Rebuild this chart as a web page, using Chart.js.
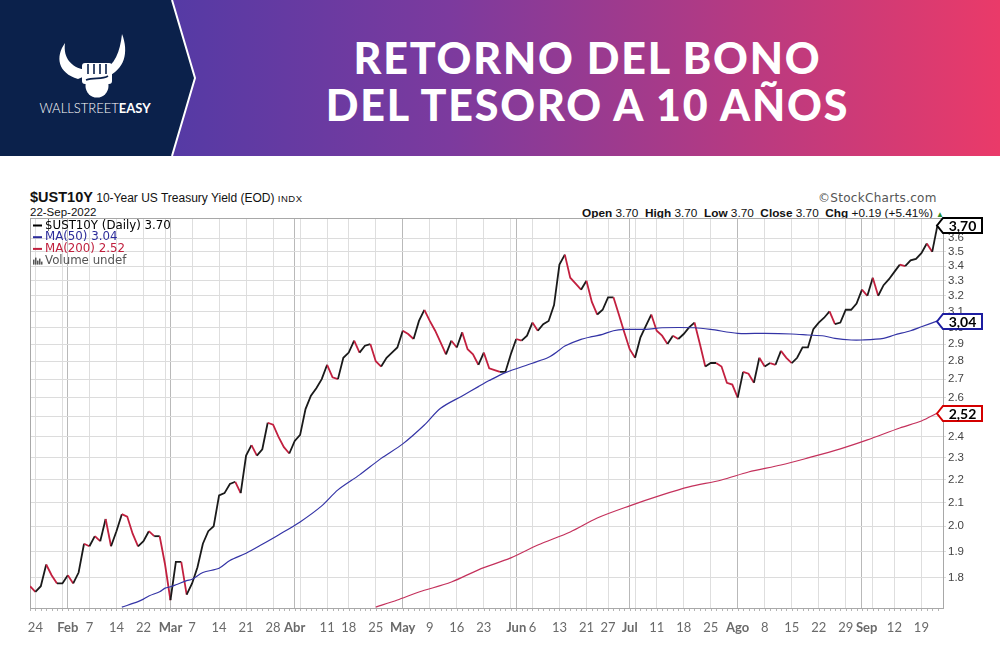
<!DOCTYPE html>
<html>
<head>
<meta charset="utf-8">
<script src="https://cdn.jsdelivr.net/npm/chart.js@4.4.1/dist/chart.umd.min.js"></script>
<style>
  body { margin: 0; width: 1000px; height: 672px; position: relative; background: #fff; overflow: hidden;
         font-family: "Liberation Sans", Arial, sans-serif; }
  #hdr { position: absolute; left: 0; top: 0; }
  .title { position: absolute; left: 175px; width: 825px; text-align: center; color: #fff;
           font-family: Lato, sans-serif; font-weight: 900; font-size: 43px; letter-spacing: 1.8px; line-height: 46px; }
  .txt { position: absolute; white-space: nowrap; color: #111; }
  #chartBox { position: absolute; left: 0; top: 160px; width: 1000px; height: 512px; }
</style>
</head>
<body>

<!-- cabecera -->
<svg id="hdr" width="1000" height="156" viewBox="0 0 1000 156">
  <defs>
    <linearGradient id="band" x1="0" x2="1" y1="0" y2="0">
      <stop offset="0" stop-color="#3d3aa9"/>
      <stop offset="0.45" stop-color="#7c3a9e"/>
      <stop offset="1" stop-color="#ea3a69"/>
    </linearGradient>
  </defs>
  <rect x="0" y="0" width="1000" height="156" fill="url(#band)"/>
  <polygon points="0,0 172,0 195,78 172,156 0,156" fill="#0b214b"/>
  <polyline points="172,0 195,78 172,156" fill="none" stroke="#fff" stroke-width="2"/>
  <!-- logo -->
  <path d="M65,43 C55,57 58,73 78,79 L85,76 L85,70 C71,67 63,58 65,43 Z" fill="#fff"/>
  <path d="M122,34 C129,52 125,70 106,77 L102,71 C115,65 120,52 122,34 Z" fill="#fff"/>
  <rect x="82" y="63" width="30" height="21" rx="3" fill="#fff"/>
  <circle cx="97" cy="86" r="11.5" fill="#fff"/>
  <path d="M88,64 L88,74 M94,64 L94,74 M100,64 L100,74 M106,64 L106,74 M86,80 C94,77 102,80 108,76" stroke="#0b214b" stroke-width="1.6" fill="none"/>
  <text x="95" y="113" text-anchor="middle" font-family="Lato" font-size="13" fill="#fff"><tspan font-weight="300">WALLSTREET</tspan><tspan font-weight="bold">EASY</tspan></text>
</svg>
<div class="title" style="top:35px">RETORNO DEL BONO</div>
<div class="title" style="top:82px">DEL TESORO A 10 AÑOS</div>

<!-- rótulos del gráfico -->
<div class="txt" style="left:30px;top:189px;font-size:12px"><b style="font-size:14.5px">$UST10Y</b> 10-Year US Treasury Yield (EOD) <span style="font-size:9.5px;letter-spacing:0.5px">INDX</span></div>
<div class="txt" style="left:30px;top:206px;font-size:11.5px">22-Sep-2022</div>
<div class="txt" style="left:818px;top:191px;font-size:12px;color:#555;font-family:'DejaVu Sans',sans-serif;letter-spacing:0.3px">©StockCharts.com</div>
<div class="txt" style="left:582px;top:206px;font-size:11.8px"><b>Open</b> 3.70&nbsp; <b>High</b> 3.70&nbsp; <b>Low</b> 3.70&nbsp; <b>Close</b> 3.70&nbsp; <b>Chg</b> +0.19 (+5.41%) <span style="color:#2a8a2a;font-size:8px">▲</span></div>

<div id="chartBox"><canvas id="c" width="1000" height="512"></canvas></div>

<script>
// ── datos ──────────────────────────────────────────────
// cierre diario del $UST10Y, 21-ene-2022 … 22-sep-2022 (índice = sesión)
const yieldClose = [
  1.77, 1.75, 1.77, 1.85, 1.81, 1.78, 1.78, 1.81, 1.78, 1.82,
  1.93, 1.92, 1.96, 1.94, 2.03, 1.92, 1.98, 2.05, 2.04, 1.97,
  1.92, 1.94, 1.98, 1.96, 1.96, 1.85, 1.72, 1.86, 1.86, 1.74,
  1.78, 1.84, 1.93, 1.98, 2.00, 2.13, 2.14, 2.18, 2.19, 2.14,
  2.31, 2.36, 2.31, 2.34, 2.47, 2.46, 2.40, 2.35, 2.32, 2.38,
  2.41, 2.54, 2.61, 2.65, 2.70, 2.78, 2.71, 2.70, 2.82, 2.85,
  2.92, 2.85, 2.89, 2.90, 2.80, 2.77, 2.82, 2.85, 2.88, 2.98,
  2.96, 2.93, 3.04, 3.11, 3.04, 2.98, 2.91, 2.84, 2.92, 2.88,
  2.97, 2.87, 2.84, 2.78, 2.85, 2.76, 2.75, 2.74, 2.74, 2.84,
  2.93, 2.92, 2.95, 3.03, 2.98, 3.02, 3.04, 3.14, 3.41, 3.48,
  3.32, 3.28, 3.24, 3.30, 3.16, 3.08, 3.11, 3.19, 3.19, 3.08,
  2.97, 2.87, 2.82, 2.94, 3.01, 3.08, 2.98, 2.95, 2.90, 2.95,
  2.93, 2.96, 3.00, 3.03, 2.90, 2.77, 2.79, 2.79, 2.77, 2.68,
  2.67, 2.60, 2.74, 2.73, 2.68, 2.82, 2.77, 2.79, 2.78, 2.86,
  2.82, 2.79, 2.82, 2.88, 2.88, 2.99, 3.03, 3.06, 3.10, 3.02,
  3.03, 3.11, 3.11, 3.15, 3.24, 3.20, 3.32, 3.20, 3.27, 3.31,
  3.36, 3.41, 3.40, 3.44, 3.45, 3.49, 3.56, 3.50, 3.70
];

// medias móviles (sesión, valor)
const ma50Day = [17, 20, 21, 22, 24, 25, 26, 27, 29, 30, 32, 35, 37, 40, 43, 46, 50, 54, 57, 61, 65, 69, 73, 76, 80, 83, 85, 88, 93, 96, 98, 99, 102, 104, 106, 108, 110, 114, 117, 123, 126, 131, 136, 141, 144, 147, 149, 152, 154, 158, 160, 163, 165, 168];
const ma50Val = [1.696, 1.715, 1.724, 1.735, 1.750, 1.763, 1.768, 1.775, 1.790, 1.795, 1.820, 1.836, 1.865, 1.893, 1.928, 1.965, 2.018, 2.085, 2.154, 2.221, 2.297, 2.366, 2.459, 2.544, 2.609, 2.659, 2.692, 2.736, 2.789, 2.823, 2.865, 2.889, 2.928, 2.944, 2.958, 2.980, 2.988, 2.988, 2.998, 2.998, 2.988, 2.964, 2.964, 2.960, 2.954, 2.948, 2.934, 2.924, 2.924, 2.934, 2.954, 2.980, 3.004, 3.04];

const ma200Day = [64, 68, 72, 78, 83, 89, 94, 100, 105, 111, 117, 122, 128, 133, 139, 144, 150, 155, 161, 165, 168];
const ma200Val = [1.696, 1.721, 1.749, 1.785, 1.830, 1.875, 1.925, 1.977, 2.034, 2.085, 2.132, 2.167, 2.198, 2.234, 2.266, 2.299, 2.342, 2.385, 2.444, 2.479, 2.52];

// eje X: sesiones con línea de semana / mes y su rótulo
const tickDay  = [1, 6, 7, 11, 16, 21, 25, 26, 30, 35, 40, 45, 49, 50, 55, 59, 64, 69, 74, 79, 84, 89, 90, 93, 98, 103, 107, 111, 112, 116, 121, 126, 131, 136, 141, 146, 151, 154, 156, 160, 165];
const tickText = ['24', '', 'Feb', '7', '14', '22', '', 'Mar', '7', '14', '21', '28', 'Abr', '', '11', '18', '25', 'May', '9', '16', '23', '', 'Jun', '6', '13', '21', '27', 'Jul', '', '11', '18', '25', 'Ago', '8', '15', '22', '29', '   Sep', '', '12', '19'];
const monthDay = [7, 26, 49, 69, 90, 111, 131, 154];

// eje Y (logarítmico)
const yTicks = [1.8, 1.9, 2.0, 2.1, 2.2, 2.3, 2.4, 2.5, 2.6, 2.7, 2.8, 2.9, 3.0, 3.1, 3.2, 3.3, 3.4, 3.5, 3.6];

const legendRows = [
  { text: '$UST10Y (Daily) 3.70', color: '#000', dash: '#000' },
  { text: 'MA(50) 3.04', color: '#2b2b9a', dash: '#2b2b9a' },
  { text: 'MA(200) 2.52', color: '#c0203e', dash: '#c0203e' },
  { text: 'Volume undef', color: '#555', dash: null }
];
const valueTags = [
  { v: 3.70, text: '3,70', border: '#000' },
  { v: 3.04, text: '3,04', border: '#1d1da0' },
  { v: 2.52, text: '2,52', border: '#d40000' }
];

// ── colores ────────────────────────────────────────────
const UP = '#1a1a1a';
const DOWN = '#c2203f';
const AXIS_FONT = 'Lato, "Open Sans", sans-serif';

const labelOf = {};
tickDay.forEach((d, i) => labelOf[d] = tickText[i]);

const decor = {
  id: 'decor',
  beforeDatasetsDraw(chart) {
    const { ctx, chartArea: a } = chart;
    ctx.save();
    ctx.strokeStyle = '#a8a8a8';
    ctx.lineWidth = 1;
    ctx.strokeRect(a.left + 0.5, a.top + 0.5, a.right - a.left, a.bottom - a.top);
    ctx.restore();
  },
  afterDraw(chart) {
    const { ctx, chartArea: a, scales } = chart;
    ctx.save();

    // marcas diarias bajo el eje
    ctx.strokeStyle = '#b5b5b5';
    ctx.lineWidth = 1;
    for (let d = 0; d < yieldClose.length; d++) {
      const x = Math.round(scales.x.getPixelForValue(d)) + 0.5;
      ctx.beginPath();
      ctx.moveTo(x, a.bottom + 1);
      ctx.lineTo(x, a.bottom + 3);
      ctx.stroke();
    }

    // leyenda
    ctx.font = '11.8px "DejaVu Sans", sans-serif';
    ctx.textBaseline = 'middle';
    legendRows.forEach((r, i) => {
      const y = a.top + 7.5 + i * 11.7;
      if (r.dash) {
        ctx.fillStyle = r.dash;
        ctx.fillRect(a.left + 3, y - 1, 9, 2);
      } else {
        ctx.fillStyle = '#555';
        [[3, 5], [5, 7], [7, 4], [9, 6], [11, 3]].forEach(([dx, h]) => ctx.fillRect(a.left + dx, y + 4 - h, 1.5, h));
      }
      ctx.fillStyle = r.color;
      ctx.fillText(r.text, a.left + 15, y);
    });

    // etiquetas de valor a la derecha
    valueTags.forEach(t => {
      const y = Math.round(scales.y.getPixelForValue(t.v)) + 0.5;
      const x0 = a.right - 6, x1 = a.right, x2 = a.right + 39, h = 7.5;
      ctx.beginPath();
      ctx.moveTo(x0, y);
      ctx.lineTo(x1, y - h);
      ctx.lineTo(x2, y - h);
      ctx.lineTo(x2, y + h);
      ctx.lineTo(x1, y + h);
      ctx.closePath();
      ctx.fillStyle = '#fff';
      ctx.fill();
      ctx.lineWidth = 2;
      ctx.strokeStyle = t.border;
      ctx.stroke();
      ctx.fillStyle = '#000';
      ctx.font = 'bold 14px Lato, sans-serif';
      ctx.textAlign = 'center';
      ctx.fillText(t.text, (x1 + x2) / 2, y + 0.5);
      ctx.textAlign = 'left';
    });

    ctx.restore();
  }
};

new Chart(document.getElementById('c'), {
  type: 'line',
  data: {
    datasets: [
      {
        label: 'MA(200)',
        data: ma200Day.map((d, i) => ({ x: d, y: ma200Val[i] })),
        borderColor: '#c4315c',
        borderWidth: 1.2,
        pointRadius: 0,
        tension: 0.3
      },
      {
        label: 'MA(50)',
        data: ma50Day.map((d, i) => ({ x: d, y: ma50Val[i] })),
        borderColor: '#3434a6',
        borderWidth: 1.2,
        pointRadius: 0,
        tension: 0.3
      },
      {
        label: '$UST10Y',
        data: yieldClose.map((v, i) => ({ x: i, y: v })),
        borderColor: UP,
        borderWidth: 1.8,
        pointRadius: 0,
        tension: 0,
        segment: {
          borderColor: c => c.p1.parsed.y < c.p0.parsed.y ? DOWN : UP
        }
      }
    ]
  },
  options: {
    responsive: false,
    animation: false,
    layout: { padding: { left: 30, top: 58, right: 0, bottom: 0 } },
    plugins: { legend: { display: false }, tooltip: { enabled: false } },
    scales: {
      x: {
        type: 'linear',
        min: 0,
        max: 169,
        afterBuildTicks: s => { s.ticks = tickDay.map(v => ({ value: v })); },
        afterFit: s => { s.height = 64; },
        ticks: {
          autoSkip: false,
          maxRotation: 0,
          padding: 12,
          color: '#6a6a6a',
          font: c => ({ family: AXIS_FONT, size: 13, weight: monthDay.includes(c.tick && c.tick.value) ? 'bold' : 'normal' }),
          callback: v => labelOf[v] || ''
        },
        grid: {
          color: c => monthDay.includes(c.tick && c.tick.value) ? '#b9b9b9' : '#dedede',
          lineWidth: 1,
          drawTicks: false
        },
        border: { display: false }
      },
      y: {
        type: 'logarithmic',
        position: 'right',
        min: 1.693,
        max: 3.75,
        afterBuildTicks: s => { s.ticks = yTicks.map(v => ({ value: v })); },
        afterFit: s => { s.width = 57; },
        ticks: {
          color: '#444',
          padding: 2,
          font: { family: '"Liberation Sans", Arial, sans-serif', size: 11.5 },
          callback: v => v.toFixed(1)
        },
        grid: { color: '#dcdcdc', lineWidth: 1, tickLength: 3 },
        border: { display: false }
      }
    }
  },
  plugins: [decor]
});
</script>
</body>
</html>
